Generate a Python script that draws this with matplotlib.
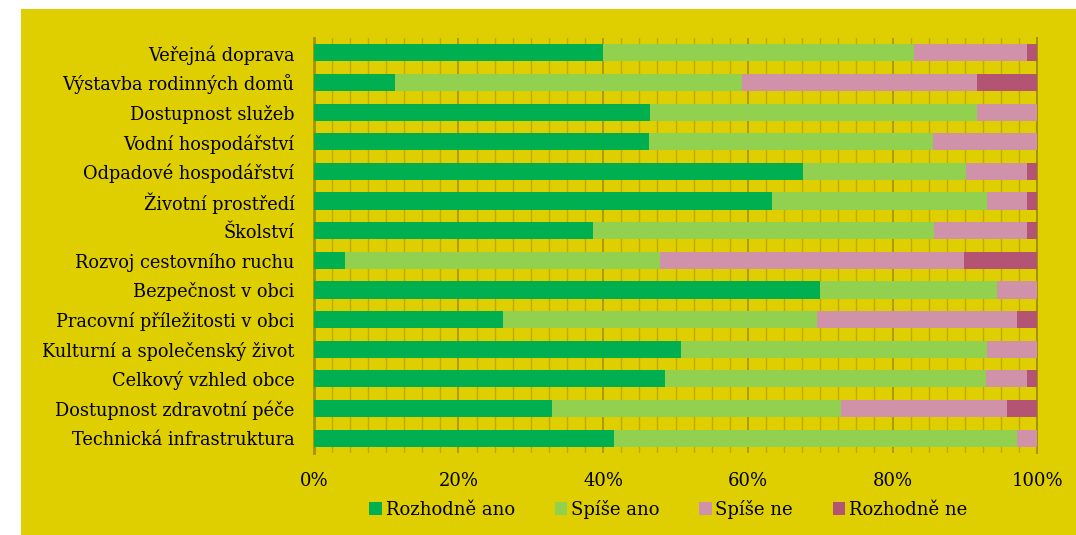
import matplotlib
matplotlib.use("Agg")
import matplotlib.pyplot as plt
from matplotlib.patches import Rectangle
from matplotlib.ticker import MultipleLocator, FuncFormatter
import numpy as np

categories = [
    "Veřejná doprava",
    "Výstavba rodinných domů",
    "Dostupnost služeb",
    "Vodní hospodářství",
    "Odpadové hospodářství",
    "Životní prostředí",
    "Školství",
    "Rozvoj cestovního ruchu",
    "Bezpečnost v obci",
    "Pracovní příležitosti v obci",
    "Kulturní a společenský život",
    "Celkový vzhled obce",
    "Dostupnost zdravotní péče",
    "Technická infrastruktura",
]
series_names = ["Rozhodně ano", "Spíše ano", "Spíše ne", "Rozhodně ne"]
rozhodne_ano = [40.0, 11.3, 46.5, 46.4, 67.6, 63.4, 38.6, 4.3, 70.0, 26.2, 50.8, 48.6, 32.9, 41.5]
spise_ano    = [43.0, 47.9, 45.1, 39.2, 22.5, 29.6, 47.1, 43.6, 24.4, 43.4, 42.2, 44.3, 40.0, 55.7]
spise_ne     = [15.6, 32.4,  8.4, 14.4,  8.5,  5.6, 12.9, 42.0,  5.6, 27.6,  7.0,  5.7, 22.9,  2.8]
rozhodne_ne  = [ 1.4,  8.4,  0.0,  0.0,  1.4,  1.4,  1.4, 10.1,  0.0,  2.8,  0.0,  1.4,  4.2,  0.0]
xticks = [0, 20, 40, 60, 80, 100]

colors = ["#00AF50", "#92D050", "#D092A8", "#B35474"]
bg = "#DFCF00"

W, H = 1076, 535
fig = plt.figure(figsize=(W / 100, H / 100), dpi=100, facecolor="white")
bgrect = Rectangle((21 / W, 0), 1 - 21 / W, (H - 9) / H,
                   transform=fig.transFigure, facecolor=bg,
                   edgecolor="none", zorder=-10)
fig.add_artist(bgrect)

ax = fig.add_axes([313.7 / W, 1 - 453 / H, (1037.3 - 313.7) / W, (453 - 38) / H])
ax.set_zorder(5)
ax.set_facecolor(bg)

y = np.arange(len(categories))
left = np.zeros(len(categories))
for name, vals, c in zip(series_names, [rozhodne_ano, spise_ano, spise_ne, rozhodne_ne], colors):
    vals = np.array(vals)
    ax.barh(y, vals, left=left, height=0.58, color=c, label=name, zorder=3)
    left += vals

ax.set_xlim(0, 100)
ax.set_ylim(len(categories) - 0.5, -0.5)
ax.set_yticks(y)
ax.set_yticklabels(categories, family="DejaVu Serif", fontsize=12.8)
ax.set_xticks(xticks)
ax.xaxis.set_minor_locator(MultipleLocator(2.5))
ax.xaxis.set_major_formatter(FuncFormatter(lambda v, p: f"{v:.0f}%"))
for lab in ax.get_xticklabels():
    lab.set_family("DejaVu Serif")
    lab.set_fontsize(13)
ax.tick_params(axis="both", which="both", length=0)
ax.tick_params(axis="y", pad=14)
ax.tick_params(axis="x", pad=14)
ax.grid(axis="x", which="minor", color="#BCAB00", linewidth=1.0, zorder=1)
ax.grid(axis="x", which="major", color="#A89700", linewidth=1.3, zorder=1)
ax.set_axisbelow(True)
for s in ["top", "bottom"]:
    ax.spines[s].set_visible(False)
ax.spines["left"].set_color("#A39200")
ax.spines["left"].set_linewidth(2)
ax.spines["right"].set_color("#A39200")
ax.spines["right"].set_linewidth(1.4)

leg = ax.legend(loc="center", bbox_to_anchor=(0.49, -0.135), ncol=4, frameon=False,
                handlelength=0.7, handleheight=0.7, handletextpad=0.2,
                columnspacing=2.2, prop={"family": "DejaVu Serif", "size": 13})

fig.savefig("out.png", dpi=100, facecolor="white")
